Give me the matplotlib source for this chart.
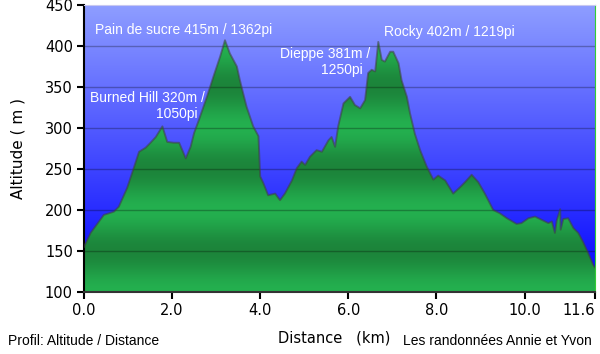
import numpy as np
import matplotlib.pyplot as plt

# profile: distance (km) / altitude (m)
dist = [0.00, 0.15, 0.45, 0.68, 0.79, 0.98, 1.14, 1.25, 1.40, 1.51, 1.63, 1.78,
        1.89, 2.04, 2.16, 2.31, 2.42, 2.50, 2.61, 2.79, 2.94, 3.09, 3.20, 3.31,
        3.47, 3.54, 3.69, 3.84, 3.96, 4.00, 4.07, 4.18, 4.34, 4.45, 4.56, 4.72,
        4.83, 4.94, 5.02, 5.13, 5.28, 5.40, 5.55, 5.62, 5.70, 5.77, 5.89, 6.04,
        6.15, 6.27, 6.38, 6.45, 6.53, 6.61, 6.68, 6.76, 6.83, 6.95, 7.02, 7.14,
        7.21, 7.33, 7.40, 7.51, 7.63, 7.78, 7.93, 8.04, 8.20, 8.38, 8.54, 8.65,
        8.80, 8.95, 9.10, 9.29, 9.44, 9.60, 9.82, 9.93, 10.09, 10.24, 10.39,
        10.54, 10.62, 10.69, 10.73, 10.81, 10.82, 10.88, 10.99, 11.11, 11.22,
        11.33, 11.45, 11.56, 11.60]
alt = [155, 172, 194, 198, 204, 227, 253, 271, 276, 282, 289, 302,
       283, 282, 282, 263, 277, 294, 310, 338, 363, 387, 407, 391,
       375, 358, 326, 302, 290, 241, 233, 218, 220, 212, 220, 236,
       251, 259, 255, 265, 273, 271, 285, 289, 277, 302, 330, 338,
       328, 324, 334, 367, 371, 369, 405, 383, 381, 393, 393, 379,
       358, 338, 318, 293, 273, 253, 237, 242, 236, 220, 228, 234,
       243, 234, 220, 200, 196, 190, 183, 184, 190, 192, 188,
       184, 186, 172, 187, 201, 176, 189, 190, 178, 172,
       161, 147, 133, 130]

x_ticks = [0.0, 2.0, 4.0, 6.0, 8.0, 10.0, 11.6]
y_ticks = [100, 150, 200, 250, 300, 350, 400, 450]

labels = ["Pain de sucre 415m / 1362pi", "Burned Hill 320m /\n1050pi  ",
          "Dieppe 381m /\n1250pi  ", "Rocky 402m / 1219pi"]

fig = plt.figure(figsize=(6, 3.54), dpi=100)
ax = fig.add_axes([0.14, 0.1751, 0.8517, 0.8108])
xmin, xmax, ymin, ymax = 0, 11.6, 100, 450

# blue sky gradient
t = np.linspace(0, 1, 256)[:, None]
sky = np.dstack([0.56 * (1 - t), 0.62 * (1 - t), np.ones_like(t)])
ax.imshow(sky, extent=[xmin, xmax, ymin, ymax], aspect='auto', zorder=0)

# green fill, banded gradient clipped to the profile
ys = np.linspace(ymax, ymin, 700)
k = 1 - (1 + np.cos(2 * np.pi * (ys - 50) / 100)) / 2
light = np.array([0.14, 0.69, 0.31])
dark = np.array([0.11, 0.52, 0.23])
green = (dark + (light - dark) * k[:, None])[:, None, :]
im = ax.imshow(green, extent=[xmin, xmax, ymin, ymax], aspect='auto', zorder=1)
poly = ax.fill_between(dist, alt, ymin, color='none', lw=0)
im.set_clip_path(poly.get_paths()[0], transform=ax.transData)
ax.plot(dist, alt, color=(0.25, 0.25, 0.25), alpha=0.55, lw=1.4, zorder=3)

for y in y_ticks[1:-1]:
    ax.axhline(y, color='black', alpha=0.28, lw=1, zorder=2)

ax.set_xlim(xmin, xmax)
ax.set_ylim(ymin, ymax)
ax.set_xticks(x_ticks)
ax.set_xticklabels([f"{v:.1f}" for v in x_ticks])
ax.get_xticklabels()[-1].set_horizontalalignment('right')
ax.set_yticks(y_ticks)
ax.tick_params(direction='out', length=5, width=1.5, labelsize=10.5, colors='black', pad=3)
ax.spines['left'].set_linewidth(1.5)
ax.spines['bottom'].set_linewidth(1.5)
ax.spines['bottom'].set_color('#333333')
ax.spines['top'].set_color('#c8c8f0')
ax.spines['right'].set_color('#33cc33')

ax.set_ylabel("Altitude ( m )", fontsize=11, labelpad=14)
ax.set_xlabel("Distance   (km)", fontsize=10.5)
ax.xaxis.set_label_coords(0.489, -0.135)

# peak labels (white)
px = lambda p: (p - 84) / 44.05
py = lambda p: 450 - (p - 5) / 0.82
ann = dict(color='white', fontsize=10, family='Liberation Sans', zorder=5)
ax.text(px(95), py(30), labels[0], ha='left', va='center', **ann)
ax.text(px(205), py(106), labels[1], ha='right', va='center', multialignment='right', **ann)
ax.text(px(370), py(62), labels[2], ha='right', va='center', multialignment='right', **ann)
ax.text(px(384), py(32), labels[3], ha='left', va='center', **ann)

fig.text(8 / 600, 1 - 341 / 354, "Profil: Altitude / Distance", fontsize=10,
         family='Liberation Sans', ha='left', va='center')
fig.text(592 / 600, 1 - 341 / 354, "Les randonnées Annie et Yvon", fontsize=10,
         family='Liberation Sans', ha='right', va='center')

fig.savefig("out.png", dpi=100)
